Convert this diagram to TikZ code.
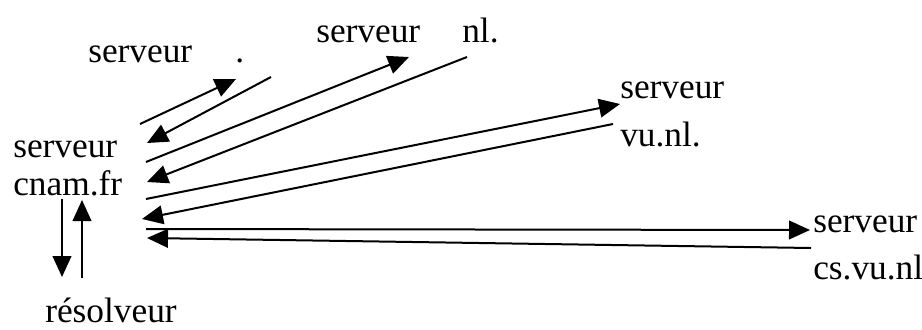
\documentclass[tikz,border=0pt]{standalone}
\usepackage{fontspec}
\setmainfont{Liberation Serif}
\usetikzlibrary{arrows.meta}
\tikzset{
  lbl/.style={anchor=base west, inner sep=0pt, font=\fontsize{26.5}{30}\selectfont},
  req/.style={line width=1.5pt, -{Triangle[length=15.75pt,width=14pt]}}
}
\begin{document}
\begin{tikzpicture}[x=0.75pt,y=-0.75pt]
        \useasboundingbox (0,0) rectangle (922,329);
        % the servers and the resolver
        \node[lbl] (cnam) at (13,157) {serveur};
        \node[lbl] (cnamfr) at (13,195) {cnam.fr};
        \node[lbl] (root) at (88,62) {serveur};
        \node[lbl] (rootdot) at (235,62) {.};
        \node[lbl] (nl) at (316,42) {serveur};
        \node[lbl] (nldom) at (462,42) {nl.};
        \node[lbl] (vu) at (620,98) {serveur};
        \node[lbl] (vudom) at (620,146) {vu.nl.};
        \node[lbl] (cs) at (813,232) {serveur};
        \node[lbl] (csdom) at (813,279) {cs.vu.nl};
        \node[lbl] (resolv) at (45,322) {résolveur};
        % ends of the queries and answers
        \coordinate (q1) at (140,124); \coordinate (q1e) at (236,79);
        \coordinate (a1) at (271,77);  \coordinate (a1e) at (147,143);
        \coordinate (q2) at (146,162); \coordinate (q2e) at (409,57);
        \coordinate (a2) at (467,57);  \coordinate (a2e) at (147,182);
        \coordinate (q3) at (146,199); \coordinate (q3e) at (620,104);
        \coordinate (a3) at (613,124); \coordinate (a3e) at (142,219);
        \coordinate (q4) at (146,229); \coordinate (q4e) at (810,230);
        \coordinate (a4) at (811,248); \coordinate (a4e) at (147,238);
        \coordinate (r1) at (62,199);  \coordinate (r1e) at (62,277);
        \coordinate (r2) at (82,278);  \coordinate (r2e) at (82,200);
        % root server
        \draw[req] (q1) -- (q1e);
        \draw[req] (a1) -- (a1e);
        % nl. server
        \draw[req] (q2) -- (q2e);
        \draw[req] (a2) -- (a2e);
        % vu.nl. server
        \draw[req] (q3) -- (q3e);
        \draw[req] (a3) -- (a3e);
        % cs.vu.nl server
        \draw[req] (q4) -- (q4e);
        \draw[req] (a4) -- (a4e);
        % resolver
        \draw[req] (r1) -- (r1e);
        \draw[req] (r2) -- (r2e);
\end{tikzpicture}
\end{document}
